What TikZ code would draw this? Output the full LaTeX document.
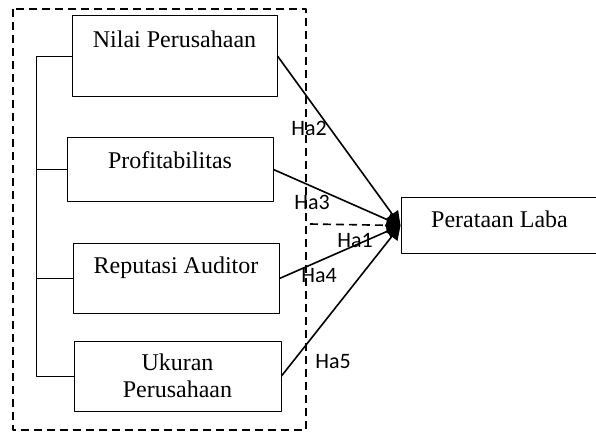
\documentclass[tikz,border=0pt]{standalone}
\usepackage{fontspec}
\setmainfont{Liberation Serif}
\newfontfamily\hafont{Carlito}
\usetikzlibrary{arrows.meta}
\begin{document}
\begin{tikzpicture}[x=0.5pt, y=-0.5pt, font=\fontsize{12}{13.5}\selectfont, line join=round, >={Triangle[length=7pt,width=7pt]},
  kotak/.style={draw, line width=0.5pt, inner xsep=0pt, inner ysep=0pt, align=center, anchor=north},
  panah/.style={->, line width=0.8pt},
  hlabel/.style={font=\hafont\fontsize{11}{13}\selectfont, inner sep=0pt}]
\useasboundingbox (0,0) rectangle (596,434);
% kerangka variabel independen
\draw[line width=1pt, dash pattern=on 4pt off 2.5pt] (13,9) rectangle (306,430);
\node[kotak, minimum width=102.5pt, text height=16pt, text depth=24.5pt] (nilai) at (174.5,15) {Nilai Perusahaan};
\node[kotak, minimum width=103pt, text height=15.5pt, text depth=16.5pt] (profit) at (170,137) {Profitabilitas};
\node[kotak, minimum width=103pt, text height=15pt, text depth=20pt] (reputasi) at (176,243) {Reputasi Auditor};
\node[kotak, minimum width=103.5pt, minimum height=35pt, anchor=center] (ukuran) at (177.5,376) {Ukuran\\Perusahaan};
\node[kotak, minimum width=98.5pt, text height=15pt, text depth=13pt] (laba) at (499.5,197) {Perataan Laba};
% garis penghubung kiri
\coordinate (spine) at (36,0);
\draw[line width=0.5pt] (nilai.west) -- (nilai.west -| spine) -- (ukuran.west -| spine) -- (ukuran.west);
\draw[line width=0.5pt] (profit.west) -- (profit.west -| spine);
\draw[line width=0.5pt] (reputasi.west) -- (reputasi.west -| spine);
% hipotesis
\coordinate (ha1) at (310,224);
\draw[panah] (nilai.east) -- (laba.west);
\draw[panah] (profit.east) -- (laba.west);
\draw[panah] (reputasi.east) -- (laba.west);
\draw[panah] (ukuran.east) -- (laba.west);
\draw[panah, dash pattern=on 4pt off 2.5pt] (ha1) -- (laba.west);
\node[hlabel] (lha2) at (309,128) {Ha2};
\node[hlabel] (lha3) at (312,202) {Ha3};
\node[hlabel] (lha1) at (355,240) {Ha1};
\node[hlabel] (lha4) at (319,276) {Ha4};
\node[hlabel] (lha5) at (333,362) {Ha5};
\end{tikzpicture}
\end{document}
